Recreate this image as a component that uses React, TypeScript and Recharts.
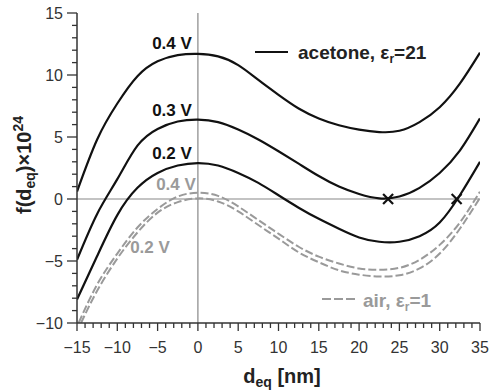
import React from "react";
import {
  ComposedChart,
  Line,
  Scatter,
  XAxis,
  YAxis,
  ReferenceLine,
} from "recharts";

const FONT = "'Liberation Sans', Arial, Helvetica, sans-serif";
const AXIS = "#333";
const BLACK = "#111";
const GRAY = "#9a9a9a";

// d_eq [nm] sample positions
const acetone04 = [
  [-15, 0.6], [-12.5, 4.8], [-10, 7.7], [-7.5, 9.9], [-5, 11.1], [-2.5, 11.6], [0, 11.7],
  [2.5, 11.5], [5, 10.8], [7.5, 9.6], [10, 8.4], [12.5, 7.3], [15, 6.5], [17.5, 5.95],
  [20, 5.6], [22.5, 5.4], [25, 5.5], [27.5, 6.2], [30, 7.4], [32.5, 9.3], [35, 11.8],
];
const acetone03 = [
  [-15, -4.9], [-12.5, -1.2], [-10, 1.6], [-7.5, 4.3], [-5, 5.65], [-2.5, 6.25], [0, 6.4],
  [2.5, 6.2], [5, 5.6], [7.5, 4.8], [10, 3.85], [12.5, 2.85], [15, 1.85], [17.5, 1.0],
  [20, 0.4], [22.5, 0.05], [25, 0.2], [27.5, 0.9], [30, 2.1], [32.5, 3.9], [35, 6.5],
];
const acetone02 = [
  [-15, -8.1], [-12.5, -4.6], [-10, -1.3], [-7.5, 0.9], [-5, 2.1], [-2.5, 2.7], [0, 2.9],
  [2.5, 2.7], [5, 2.1], [7.5, 1.3], [10, 0.3], [12.5, -0.7], [15, -1.6], [17.5, -2.4],
  [20, -3.1], [22.5, -3.45], [25, -3.45], [27.5, -3.0], [30, -1.9], [32.5, 0.3], [35, 3.0],
];
const air04 = [
  [-14.8, -10], [-12.5, -6.9], [-10, -4.4], [-7.5, -2.3], [-5, -0.8], [-2.5, 0.2], [0, 0.5],
  [2.5, 0.25], [5, -0.6], [7.5, -1.7], [10, -2.8], [12.5, -3.85], [15, -4.65], [17.5, -5.2],
  [20, -5.6], [22.5, -5.7], [25, -5.55], [27.5, -4.9], [30, -3.7], [32.5, -1.9], [35, 0.6],
];
const air02 = [
  [-14.5, -10], [-12.5, -7.4], [-10, -4.8], [-7.5, -2.7], [-5, -1.1], [-2.5, -0.25], [0, 0.05],
  [2.5, -0.2], [5, -1.0], [7.5, -2.1], [10, -3.2], [12.5, -4.3], [15, -5.1], [17.5, -5.75],
  [20, -6.1], [22.5, -6.25], [25, -6.15], [27.5, -5.6], [30, -4.4], [32.5, -2.4], [35, 0.1],
];
const equilibria = [
  [23.6, 0],
  [32.1, 0],
];

const xMajor = [-15, -10, -5, 0, 5, 10, 15, 20, 25, 30, 35];
const yMajor = [-10, -5, 0, 5, 10, 15];

const toPts = (arr: number[][]) => arr.map(([x, y]) => ({ x, y }));
const minorTicks = (lo: number, hi: number) =>
  Array.from({ length: hi - lo + 1 }, (_, i) => lo + i);
const fmt = (v: number) => (v < 0 ? `\u2212${-v}` : `${v}`);

const XTick = (props: any) => {
  const { x, y, payload } = props;
  const v = payload.value;
  const major = xMajor.includes(v);
  return (
    <g>
      <line x1={x} x2={x} y1={y} y2={y + (major ? 8 : 5)} stroke={AXIS} strokeWidth={1.3} />
      {major && (
        <text x={x} y={y + 30} textAnchor="middle" fontSize={16} fill="#333" fontFamily={FONT}>
          {fmt(v)}
        </text>
      )}
    </g>
  );
};

const YTick = (props: any) => {
  const { x, y, payload } = props;
  const v = payload.value;
  const major = yMajor.includes(v);
  return (
    <g>
      <line x1={x - (major ? 10 : 5)} x2={x} y1={y} y2={y} stroke={AXIS} strokeWidth={1.3} />
      {major && (
        <text x={x - 14} y={y + 5.7} textAnchor="end" fontSize={16} fill="#333" fontFamily={FONT}>
          {fmt(v)}
        </text>
      )}
    </g>
  );
};

const Cross = (props: any) => {
  const { cx, cy } = props;
  const s = 5;
  return (
    <g stroke={BLACK} strokeWidth={2.2}>
      <line x1={cx - s} y1={cy - s} x2={cx + s} y2={cy + s} />
      <line x1={cx - s} y1={cy + s} x2={cx + s} y2={cy - s} />
    </g>
  );
};

export default function App() {
  return (
    <div style={{ position: "absolute", left: 0, top: 0, width: 489, height: 392, background: "#fff" }}>
      <ComposedChart width={489} height={392} margin={{ top: 13, right: 9, left: 0, bottom: 0 }}>
        <XAxis
          type="number"
          dataKey="x"
          domain={[-15, 35]}
          ticks={minorTicks(-15, 35)}
          interval={0}
          tick={<XTick />}
          tickSize={0}
          tickMargin={0}
          tickLine={false}
          axisLine={{ stroke: AXIS, strokeWidth: 1.5 }}
          height={69}
          allowDataOverflow
        />
        <YAxis
          type="number"
          dataKey="y"
          domain={[-10, 15]}
          ticks={minorTicks(-10, 15)}
          interval={0}
          tick={<YTick />}
          tickSize={0}
          tickMargin={0}
          tickLine={false}
          axisLine={{ stroke: AXIS, strokeWidth: 1.5 }}
          width={77}
          allowDataOverflow
        />
        <ReferenceLine x={0} stroke="#888" strokeWidth={1.2} />
        <ReferenceLine y={0} stroke="#888" strokeWidth={1.2} />
        <Line data={toPts(air04)} dataKey="y" type="natural" stroke={GRAY} strokeWidth={2}
          strokeDasharray="8 3" dot={false} activeDot={false} isAnimationActive={false} />
        <Line data={toPts(air02)} dataKey="y" type="natural" stroke={GRAY} strokeWidth={2}
          strokeDasharray="8 3" dot={false} activeDot={false} isAnimationActive={false} />
        <Line data={toPts(acetone04)} dataKey="y" type="natural" stroke={BLACK} strokeWidth={2.2}
          dot={false} activeDot={false} isAnimationActive={false} />
        <Line data={toPts(acetone03)} dataKey="y" type="natural" stroke={BLACK} strokeWidth={2.2}
          dot={false} activeDot={false} isAnimationActive={false} />
        <Line data={toPts(acetone02)} dataKey="y" type="natural" stroke={BLACK} strokeWidth={2.2}
          dot={false} activeDot={false} isAnimationActive={false} />
        <Scatter data={toPts(equilibria)} dataKey="y" shape={<Cross />} isAnimationActive={false} />
      </ComposedChart>
      <svg
        width={489}
        height={392}
        style={{ position: "absolute", left: 0, top: 0, pointerEvents: "none" }}
        fontFamily={FONT}
        fontWeight="bold"
      >
        <text x={172} y={49} textAnchor="middle" fontSize={17} fill={BLACK}>0.4 V</text>
        <text x={172} y={116} textAnchor="middle" fontSize={17} fill={BLACK}>0.3 V</text>
        <text x={172} y={159} textAnchor="middle" fontSize={17} fill={BLACK}>0.2 V</text>
        <text x={176} y={190} textAnchor="middle" fontSize={17} fill={GRAY}>0.4 V</text>
        <text x={150} y={253} textAnchor="middle" fontSize={17} fill={GRAY}>0.2 V</text>

        <line x1={255} x2={288} y1={52} y2={52} stroke={BLACK} strokeWidth={2.2} />
        <text x={298} y={59} fontSize={19} fill="#222">
          acetone, ε<tspan fontSize={12} dy={4}>r</tspan><tspan dy={-4}>=21</tspan>
        </text>
        <line x1={322} x2={355} y1={299} y2={299} stroke={GRAY} strokeWidth={2.2} strokeDasharray="9 3" />
        <text x={363} y={307} fontSize={19} fill={GRAY}>
          air, ε<tspan fontSize={12} dy={4}>r</tspan><tspan dy={-4}>=1</tspan>
        </text>

        <text x={282} y={383} textAnchor="middle" fontSize={20} fill="#222">
          d<tspan fontSize={14} dy={4}>eq</tspan><tspan dy={-4}> [nm]</tspan>
        </text>
        <text
          transform="translate(31,165) rotate(-90)"
          textAnchor="middle"
          fontSize={20}
          fill="#222"
        >
          f(d<tspan fontSize={14} dy={4}>eq</tspan><tspan dy={-4}>)×10</tspan>
          <tspan fontSize={14} dy={-8}>24</tspan>
        </text>
      </svg>
    </div>
  );
}
